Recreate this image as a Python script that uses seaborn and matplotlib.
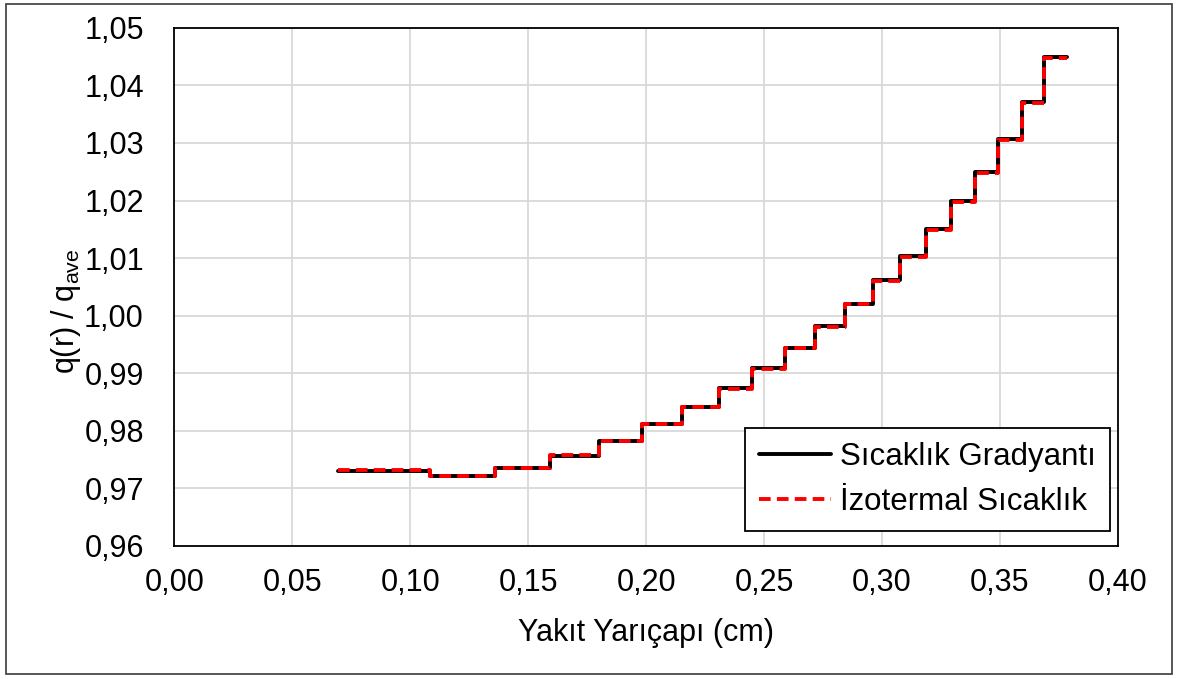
import pandas as pd
import seaborn as sns
import matplotlib.pyplot as plt
from matplotlib.ticker import FuncFormatter, MultipleLocator
from matplotlib.patches import Rectangle

## step edges (cm)
yaricap = [0.0694, 0.1085, 0.1361, 0.1594, 0.1799, 0.1983, 0.2150, 0.2309, 0.2450,
           0.2587, 0.2715, 0.2842, 0.2960, 0.3076, 0.3186, 0.3293, 0.3394, 0.3493,
           0.3592, 0.3685, 0.3784]

## q(r)/q_ave per ring (last value repeated so the last step gets drawn)
gradyant = [0.9731, 0.9722, 0.9735, 0.9757, 0.9782, 0.9812, 0.9842, 0.9874, 0.9909,
            0.9944, 0.9982, 1.0021, 1.0062, 1.0104, 1.0150, 1.0199, 1.0250, 1.0307,
            1.0372, 1.0450, 1.0450]
izotermal = [0.9732, 0.9721, 0.9736, 0.9758, 0.9783, 0.9811, 0.9842, 0.9873, 0.9908,
             0.9943, 0.9981, 1.0020, 1.0060, 1.0102, 1.0148, 1.0197, 1.0248, 1.0305,
             1.0370, 1.0448, 1.0448]

seri_adlari = ["Sıcaklık Gradyantı", "İzotermal Sıcaklık"]

df = pd.DataFrame({"r": yaricap + yaricap,
                   "q": gradyant + izotermal,
                   "seri": [seri_adlari[0]] * len(yaricap) + [seri_adlari[1]] * len(yaricap)})

sns.set_style("white")
plt.rcParams['font.family'] = ['Liberation Sans', 'DejaVu Sans']
plt.rcParams['mathtext.fontset'] = 'custom'
plt.rcParams['mathtext.rm'] = 'Liberation Sans'
for k in ['text.color', 'axes.labelcolor', 'xtick.color', 'ytick.color']:
    plt.rcParams[k] = 'black'

fig = plt.figure(figsize=(11.78, 6.79), dpi=100)
ax = fig.add_axes([0.148, 0.196, 0.801, 0.763])

# outer chart frame
fig.patches.append(Rectangle((0.005, 0.007), 0.99, 0.987, transform=fig.transFigure,
                             fill=False, edgecolor="#3a3a3a", linewidth=1.2))

sns.lineplot(data=df[df.seri == seri_adlari[0]], x="r", y="q", ax=ax, color="black",
             linewidth=2.8, drawstyle="steps-post", label=seri_adlari[0])
sns.lineplot(data=df[df.seri == seri_adlari[1]], x="r", y="q", ax=ax, color="#ff0000",
             linewidth=2.8, linestyle=(0, (3, 1.6)), drawstyle="steps-post",
             label=seri_adlari[1])

ax.set_xlim(0, 0.40)
ax.set_ylim(0.96, 1.05)
ax.xaxis.set_major_locator(MultipleLocator(0.05))
ax.yaxis.set_major_locator(MultipleLocator(0.01))
ax.xaxis.set_major_formatter(FuncFormatter(lambda v, p: f"{v:.2f}".replace(".", ",")))
ax.yaxis.set_major_formatter(FuncFormatter(lambda v, p: f"{v:.2f}".replace(".", ",")))
ax.tick_params(labelsize=22, length=0)
ax.tick_params(axis="x", pad=16)
ax.tick_params(axis="y", pad=22)
ax.grid(True, color="#d9d9d9", linewidth=1.3)
for s in ax.spines.values():
    s.set_color("black")
    s.set_linewidth(1.3)

ax.set_xlabel("Yakıt Yarıçapı (cm)", fontsize=22, labelpad=14)
ax.set_ylabel(r"q(r) / q$_{\mathrm{ave}}$", fontsize=22)
ax.yaxis.set_label_coords(-0.097, 0.453)

leg = ax.legend(loc="lower right", bbox_to_anchor=(0.9915, 0.028), fontsize=22.5,
                frameon=True, fancybox=False, edgecolor="black", handlelength=2.3,
                borderpad=0.45, labelspacing=0.5, handletextpad=0.3, borderaxespad=0)
leg.get_frame().set_linewidth(1.3)
leg.get_frame().set_alpha(1)

plt.savefig("out.png", dpi=100)
